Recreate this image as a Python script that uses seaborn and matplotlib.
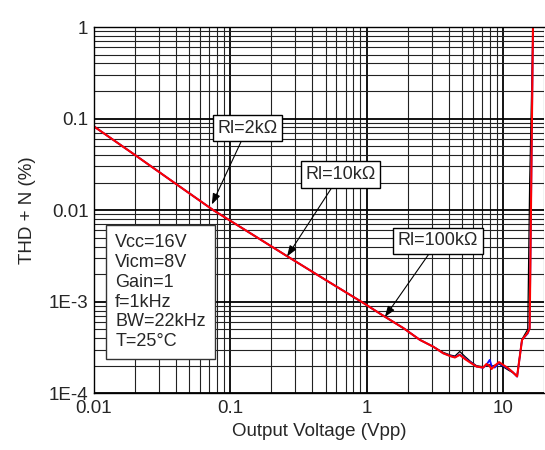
import numpy as np
import pandas as pd
import seaborn as sns
import matplotlib
matplotlib.use("Agg")
from matplotlib import pyplot as plt
from matplotlib import ticker

# output voltage (Vpp) sample points
v_pts = [0.01, 0.02, 0.04, 0.075, 0.15, 0.262, 0.5, 0.945, 1.3, 1.86, 2.46, 3.08,
         3.64, 4.1, 4.44, 4.82, 5.3, 5.8, 6.4, 7.15, 7.57, 8.0, 8.24, 8.7, 9.36,
         10.0, 10.9, 11.8, 12.7, 13.8, 15.2, 15.7, 16.6]

# THD+N (%) per load
thd_2k = [0.082, 0.040, 0.0193, 0.0100, 0.00526, 0.00313, 0.00173, 0.00097,
          0.000716, 0.000515, 0.000383, 0.000323, 0.000280, 0.000262, 0.000255,
          0.000286, 0.000250, 0.000222, 0.000200, 0.000195, 0.000200, 0.000205,
          0.000198, 0.000202, 0.000210, 0.000195, 0.000180, 0.000168, 0.000155,
          0.000390, 0.00050, 0.02, 1.0]
thd_10k = [0.082, 0.040, 0.0193, 0.0100, 0.00526, 0.00313, 0.00173, 0.00097,
           0.000716, 0.000515, 0.000383, 0.000323, 0.000274, 0.000256, 0.000248,
           0.000265, 0.000238, 0.000218, 0.000196, 0.000190, 0.000205, 0.000232,
           0.000200, 0.000191, 0.000215, 0.000200, 0.000186, 0.000170, 0.000152,
           0.000385, 0.00045, 0.00052, 1.0]
thd_100k = [0.082, 0.040, 0.0193, 0.0100, 0.00526, 0.00313, 0.00173, 0.00097,
            0.000716, 0.000515, 0.000383, 0.000323, 0.000274, 0.000255, 0.000246,
            0.000263, 0.000235, 0.000215, 0.000196, 0.000191, 0.000209, 0.000198,
            0.000184, 0.000200, 0.000219, 0.000205, 0.000188, 0.000170, 0.000153,
            0.000383, 0.00046, 0.00051, 1.0]

series_names = ["Rl=2kΩ", "Rl=10kΩ", "Rl=100kΩ"]
series_colors = ["black", "#1010ff", "#ff0000"]
series_widths = [0.9, 1.3, 1.5]

x_ticks = [0.01, 0.1, 1, 10]
x_labels = ["0.01", "0.1", "1", "10"]
y_ticks = [1e-4, 1e-3, 0.01, 0.1, 1]
y_labels = ["1E-4", "1E-3", "0.01", "0.1", "1"]

conditions = "Vcc=16V\nVicm=8V\nGain=1\nf=1kHz\nBW=22kHz\nT=25°C"

sns.set_style("white")
plt.rcParams["font.family"] = ["Liberation Sans", "DejaVu Sans"]

df = pd.DataFrame({
    "v": v_pts * 3,
    "thd": thd_2k + thd_10k + thd_100k,
    "load": [series_names[0]] * len(v_pts) + [series_names[1]] * len(v_pts)
            + [series_names[2]] * len(v_pts),
})

fig = plt.figure(figsize=(5.45, 4.5), dpi=100)
ax = fig.add_axes([94 / 545, (450 - 393.3) / 450, 450 / 545, 366.3 / 450])

for name, col, lw in zip(series_names, series_colors, series_widths):
    sns.lineplot(data=df[df["load"] == name], x="v", y="thd", color=col,
                 linewidth=lw, estimator=None, sort=False, ax=ax, legend=False)

ax.set_xscale("log")
ax.set_yscale("log")
ax.set_xlim(0.01, 20)
ax.set_ylim(1e-4, 1)

ax.xaxis.set_minor_locator(ticker.LogLocator(base=10, subs=np.arange(2, 10), numticks=20))
ax.yaxis.set_minor_locator(ticker.LogLocator(base=10, subs=np.arange(2, 10), numticks=20))
ax.xaxis.set_minor_formatter(ticker.NullFormatter())
ax.yaxis.set_minor_formatter(ticker.NullFormatter())
ax.set_xticks(x_ticks, x_labels)
ax.set_yticks(y_ticks, y_labels)
ax.tick_params(which="both", length=0, labelsize=13.5)
ax.tick_params(axis="x", pad=5)
ax.tick_params(axis="y", pad=4)

ax.grid(which="minor", color="#222222", linewidth=0.8)
ax.grid(which="major", color="black", linewidth=1.3)
ax.set_axisbelow(True)
for s in ax.spines.values():
    s.set_color("black")
    s.set_linewidth(1.0)
ax.spines["right"].set_visible(False)

ax.set_xlabel("Output Voltage (Vpp)", fontsize=13.5, labelpad=4)
ax.set_ylabel("THD + N (%)", fontsize=13.5, labelpad=9)

ax.text(0.047, 0.435, conditions, transform=ax.transAxes, fontsize=13,
        va="top", ha="left", linespacing=1.22,
        bbox=dict(boxstyle="square,pad=0.5", facecolor="white", edgecolor="#333333", linewidth=1))

arrow = dict(arrowstyle="-|>,head_length=0.5,head_width=0.18", color="black", lw=0.8,
             shrinkA=0, shrinkB=0)
box = dict(boxstyle="square,pad=0.25", facecolor="white", edgecolor="black", linewidth=1)
ax.annotate(series_names[0], xy=(0.0732, 0.01153), xytext=(0.133, 0.078),
            ha="center", va="center", fontsize=13, bbox=box, arrowprops=arrow)
ax.annotate(series_names[1], xy=(0.2607, 0.00312), xytext=(0.641, 0.0245),
            ha="center", va="center", fontsize=13, bbox=box, arrowprops=arrow)
ax.annotate(series_names[2], xy=(1.36, 0.000681), xytext=(3.345, 0.00463),
            ha="center", va="center", fontsize=13, bbox=box, arrowprops=arrow)

plt.savefig("out.png", dpi=100)
